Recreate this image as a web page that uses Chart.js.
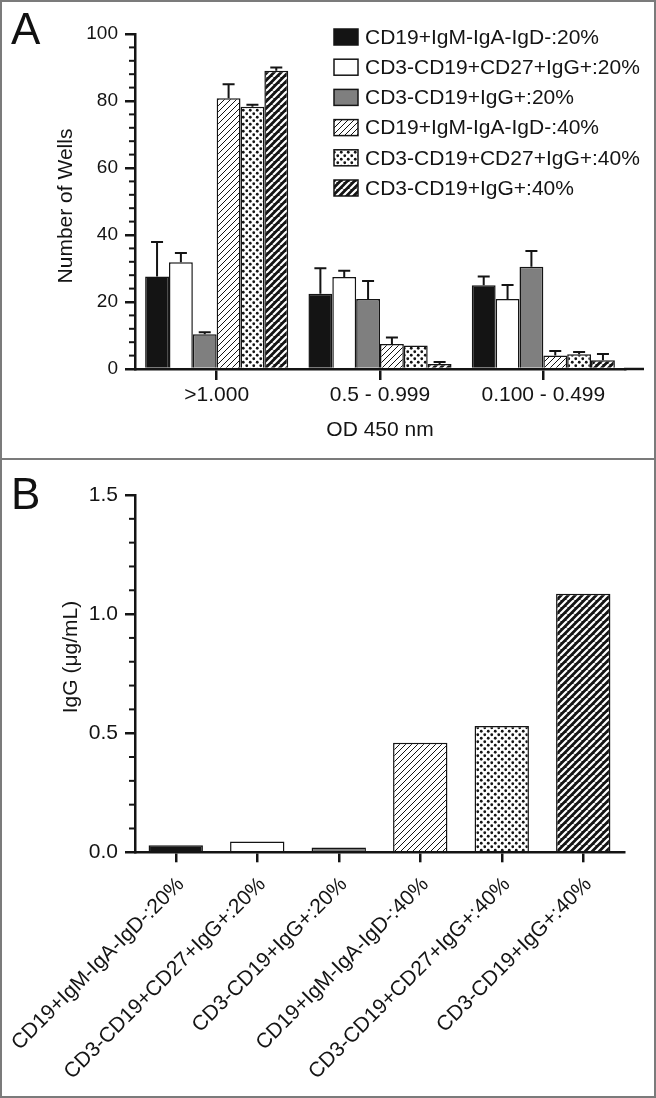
<!DOCTYPE html>
<html>
<head>
<meta charset="utf-8">
<script src="https://cdn.jsdelivr.net/npm/chart.js@4.4.1/dist/chart.umd.min.js"></script>
<style>
  html, body { margin: 0; padding: 0; background: #fff; }
  body { width: 656px; height: 1098px; position: relative; overflow: hidden; font-family: "Liberation Sans", Arial, sans-serif; }
  .frame { position: absolute; left: 0; top: 0; width: 656px; height: 1098px; box-sizing: border-box; border: 2px solid #7b7b7b; pointer-events: none; }
  .divider { position: absolute; left: 0; top: 458px; width: 656px; height: 2px; background: #7b7b7b; }
  canvas { position: absolute; left: 0; }
  #chart-a { top: 0; }
  #chart-b { top: 460px; }
  .letter { position: absolute; left: 11px; font-size: 44px; line-height: 44px; color: #111; }
</style>
</head>
<body>
<canvas id="chart-a" width="656" height="458"></canvas>
<canvas id="chart-b" width="656" height="636"></canvas>
<div class="letter" style="top:7px">A</div>
<div class="letter" style="top:472px">B</div>
<div class="divider"></div>
<div class="frame"></div>

<script>
const $ = document.querySelector.bind(document);

// categories
const odBins = [">1.000", "0.5 - 0.999", "0.100 - 0.499"];
const populations = [
  "CD19+IgM-IgA-IgD-:20%",
  "CD3-CD19+CD27+IgG+:20%",
  "CD3-CD19+IgG+:20%",
  "CD19+IgM-IgA-IgD-:40%",
  "CD3-CD19+CD27+IgG+:40%",
  "CD3-CD19+IgG+:40%",
];

// panel A: number of wells per OD bin (one row per population)
const wellCounts = [
  [27.6, 22.5, 25.0],
  [31.9, 27.5, 20.9],
  [10.4, 20.9, 30.5],
  [80.8, 7.5, 4.0],
  [78.3, 7.0, 4.4],
  [89.0, 1.5, 2.6],
];
const wellErrors = [
  [10.3, 7.6, 2.6],
  [2.7, 1.8, 4.2],
  [0.6, 5.4, 4.7],
  [4.2, 1.9, 1.4],
  [0.6, 0, 0.7],
  [1.0, 0.6, 1.9],
];

// panel B: IgG concentration
const iggValues = [0.03, 0.045, 0.02, 0.46, 0.53, 1.085];

const wellTicks = [0, 20, 40, 60, 80, 100];
const iggTicks = [0.0, 0.5, 1.0, 1.5];

const INK = "#141414";
const FONT = '"Liberation Sans", Arial, sans-serif';

Chart.defaults.font.family = FONT;
Chart.defaults.color = INK;

function makeFills(ctx) {
  const tile = (size, draw) => {
    const c = document.createElement("canvas");
    c.width = size;
    c.height = size;
    draw(c.getContext("2d"), size);
    return ctx.createPattern(c, "repeat");
  };
  const diag = (g, s) => {
    g.beginPath();
    for (const k of [-s, 0, s]) {
      g.moveTo(k, s);
      g.lineTo(k + s, 0);
    }
    g.stroke();
  };
  return [
    INK,
    "#ffffff",
    "#7f7f7f",
    tile(6, (g, s) => {
      g.fillStyle = "#fff";
      g.fillRect(0, 0, s, s);
      g.strokeStyle = INK;
      g.lineWidth = 1;
      diag(g, s);
    }),
    tile(7, (g, s) => {
      g.fillStyle = "#fff";
      g.fillRect(0, 0, s, s);
      g.fillStyle = INK;
      for (const [x, y] of [[1.75, 1.75], [5.25, 5.25]]) {
        g.beginPath();
        g.arc(x, y, 1.4, 0, Math.PI * 2);
        g.fill();
      }
    }),
    tile(7, (g, s) => {
      g.fillStyle = INK;
      g.fillRect(0, 0, s, s);
      g.strokeStyle = "#fff";
      g.lineWidth = 2.2;
      diag(g, s);
    }),
  ];
}

// upper error bars
const errorBars = {
  id: "errorBars",
  afterDatasetsDraw(chart) {
    const { ctx } = chart;
    const y = chart.scales.y;
    ctx.save();
    ctx.strokeStyle = INK;
    ctx.lineWidth = 2;
    chart.data.datasets.forEach((ds, i) => {
      if (!ds.errors) return;
      chart.getDatasetMeta(i).data.forEach((bar, j) => {
        const err = ds.errors[j];
        if (!err) return;
        const top = y.getPixelForValue(ds.data[j] + err);
        ctx.beginPath();
        ctx.moveTo(bar.x, bar.y);
        ctx.lineTo(bar.x, top);
        ctx.moveTo(bar.x - 6, top);
        ctx.lineTo(bar.x + 6, top);
        ctx.stroke();
      });
    });
    ctx.restore();
  },
};

// short ticks between the labelled ones
const minorTicks = {
  id: "minorTicks",
  afterDraw(chart, args, opts) {
    if (!opts.step) return;
    const { ctx } = chart;
    const y = chart.scales.y;
    const n = Math.round((y.max - y.min) / opts.step);
    ctx.save();
    ctx.strokeStyle = INK;
    ctx.lineWidth = 2;
    for (let i = 0; i <= n; i++) {
      if (i % opts.every === 0) continue;
      const py = y.getPixelForValue(y.min + i * opts.step);
      ctx.beginPath();
      ctx.moveTo(y.right, py);
      ctx.lineTo(y.right - 6, py);
      ctx.stroke();
    }
    ctx.restore();
  },
};

// y-axis title placed freely
const sideTitle = {
  id: "sideTitle",
  afterDraw(chart, args, opts) {
    if (!opts.text) return;
    const { ctx } = chart;
    ctx.save();
    ctx.translate(opts.x, opts.y);
    ctx.rotate(-Math.PI / 2);
    ctx.font = "21px " + FONT;
    ctx.fillStyle = INK;
    ctx.textAlign = "center";
    ctx.textBaseline = "middle";
    ctx.fillText(opts.text, 0, 0);
    ctx.restore();
  },
};

// x-axis line running past the last group
const axisTail = {
  id: "axisTail",
  afterDraw(chart, args, opts) {
    if (!opts.extra) return;
    const { ctx, chartArea } = chart;
    ctx.save();
    ctx.strokeStyle = INK;
    ctx.lineWidth = 2.5;
    ctx.beginPath();
    ctx.moveTo(chartArea.right - 1, chartArea.bottom);
    ctx.lineTo(chartArea.right + opts.extra, chartArea.bottom);
    ctx.stroke();
    ctx.restore();
  },
};

// stacked legend with filled boxes
const boxLegend = {
  id: "boxLegend",
  afterDraw(chart, args, opts) {
    if (!opts.x) return;
    const { ctx } = chart;
    ctx.save();
    ctx.font = "21px " + FONT;
    ctx.textBaseline = "middle";
    chart.data.datasets.forEach((ds, i) => {
      const cy = opts.y + i * opts.gap;
      ctx.fillStyle = ds.backgroundColor;
      ctx.fillRect(opts.x, cy - 8, 24, 16);
      ctx.strokeStyle = INK;
      ctx.lineWidth = 1.5;
      ctx.strokeRect(opts.x, cy - 8, 24, 16);
      ctx.fillStyle = INK;
      ctx.fillText(ds.label, opts.x + 31, cy + 1);
    });
    ctx.restore();
  },
};

Chart.register(errorBars, minorTicks, sideTitle, axisTail, boxLegend);

function axisBase() {
  return {
    border: { color: INK, width: 2.5 },
    grid: {
      drawOnChartArea: false,
      color: INK,
      tickColor: INK,
      tickWidth: 2.5,
      lineWidth: 2.5,
      tickLength: 10,
    },
  };
}

function chartWells() {
  const canvas = $("#chart-a");
  const fills = makeFills(canvas.getContext("2d"));
  new Chart(canvas, {
    type: "bar",
    data: {
      labels: odBins,
      datasets: populations.map((name, i) => ({
        label: name,
        data: wellCounts[i],
        errors: wellErrors[i],
        backgroundColor: fills[i],
        borderColor: INK,
        borderWidth: 1.5,
        categoryPercentage: 0.876,
        barPercentage: 1,
      })),
    },
    options: {
      responsive: false,
      animation: false,
      layout: { padding: { left: 0, top: 34, right: 31, bottom: 0 } },
      plugins: {
        legend: { display: false },
        tooltip: { enabled: false },
        minorTicks: { step: 4, every: 5 },
        sideTitle: { text: "Number of Wells", x: 66, y: 206 },
        axisTail: { extra: 19 },
        boxLegend: { x: 334, y: 37, gap: 30.2 },
      },
      scales: {
        x: {
          ...axisBase(),
          grid: { ...axisBase().grid, offset: false, tickLength: 11 },
          ticks: { font: { size: 21 }, padding: 3, color: INK },
          title: {
            display: true,
            text: "OD 450 nm",
            font: { size: 21 },
            color: INK,
            padding: { top: 0, bottom: 15 },
          },
          afterFit: (s) => { s.height = 89; },
        },
        y: {
          ...axisBase(),
          min: wellTicks[0],
          max: wellTicks[wellTicks.length - 1],
          ticks: { stepSize: 20, font: { size: 19 }, padding: 7, color: INK },
          afterFit: (s) => { s.width = 135; },
        },
      },
    },
  });
}

function chartIgg() {
  const canvas = $("#chart-b");
  const fills = makeFills(canvas.getContext("2d"));
  new Chart(canvas, {
    type: "bar",
    data: {
      labels: populations,
      datasets: [
        {
          label: "IgG",
          data: iggValues,
          backgroundColor: fills,
          borderColor: INK,
          borderWidth: 1.5,
          categoryPercentage: 1,
          barPercentage: 0.667,
        },
      ],
    },
    options: {
      responsive: false,
      animation: false,
      layout: { padding: { left: 0, top: 35, right: 32, bottom: 0 } },
      plugins: {
        legend: { display: false },
        tooltip: { enabled: false },
        minorTicks: { step: 0.1, every: 5 },
        sideTitle: { text: "IgG (μg/mL)", x: 71, y: 197 },
      },
      scales: {
        x: {
          ...axisBase(),
          grid: { ...axisBase().grid, offset: false, tickLength: 10 },
          ticks: {
            font: { size: 21 },
            padding: 10,
            labelOffset: 5,
            color: INK,
            autoSkip: false,
            minRotation: 45,
            maxRotation: 45,
          },
          afterFit: (s) => {
            s.height = 243.7;
            s.paddingLeft = 0;
            s.paddingRight = 0;
          },
        },
        y: {
          ...axisBase(),
          min: iggTicks[0],
          max: iggTicks[iggTicks.length - 1],
          ticks: {
            stepSize: 0.5,
            font: { size: 21 },
            padding: 7,
            color: INK,
            callback: (v) => Number(v).toFixed(1),
          },
          afterFit: (s) => { s.width = 135; },
        },
      },
    },
  });
}

document.addEventListener("DOMContentLoaded", () => {
  chartWells();
  chartIgg();
});
</script>
</body>
</html>
